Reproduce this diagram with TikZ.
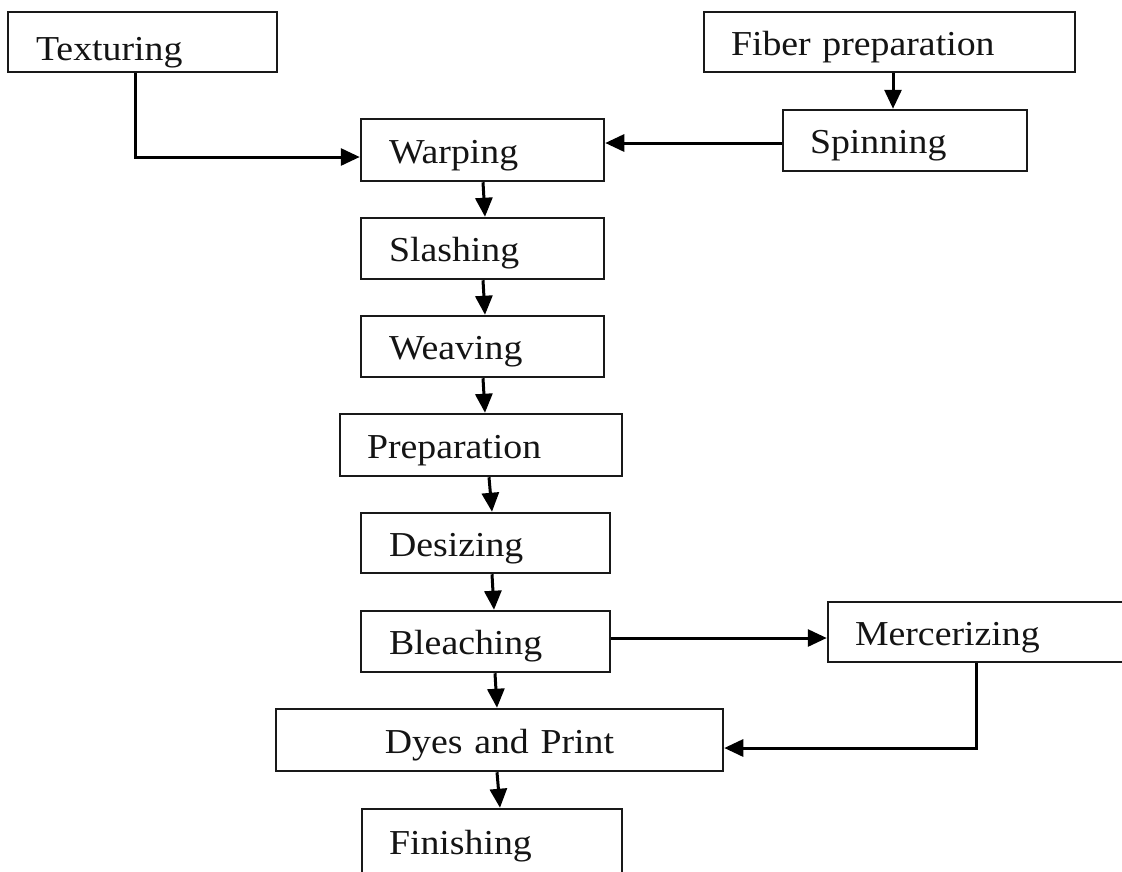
\documentclass[tikz,border=0pt]{standalone}
\usepackage{fontspec}
\setmainfont{Liberation Serif}[FakeStretch=1.08]
\usetikzlibrary{arrows.meta}
\tikzset{
  boxstyle/.style={draw=black!90, line width=2.5pt, rectangle, inner ysep=0pt,
    text height=30pt, text depth=4pt, font=\fontsize{35}{40}\selectfont, text=black!92},
  arr/.style={line width=3pt, -{Triangle[length=19pt,width=17pt]}}
}
\newcommand\procbox[8]{%
  \pgfmathsetmacro\pbw{#4-#2}%
  \pgfmathsetmacro\pbh{#5-#3}%
  \pgfmathsetmacro\pbs{#6-#2}%
  \pgfmathsetmacro\pbt{\pbw-2*\pbs}%
  \node[boxstyle, minimum width=\pbw pt, minimum height=\pbh pt,
        inner xsep=\pbs pt, text width=\pbt pt, #8] (#1) at ({(#2+#4)/2},{(#3+#5)/2}) {#7};%
}
\begin{document}
\begin{tikzpicture}[x=1pt,y=-1pt]
\fill[white] (0,0) rectangle (1122,871);
\useasboundingbox (0,0) rectangle (1122,871);

\procbox{tex}{8}{12}{277}{72}{36}{Texturing}{text height=40pt}
\procbox{fiber}{704}{12}{1075}{72}{731}{Fiber preparation}{}
\procbox{spin}{783}{110}{1027}{171}{810}{Spinning}{}
\procbox{warp}{361}{119}{604}{181}{389}{Warping}{}
\procbox{slash}{361}{218}{604}{279}{389}{Slashing}{}
\procbox{weave}{361}{316}{604}{377}{389}{Weaving}{}
\procbox{prep}{340}{414}{622}{476}{367}{Preparation}{}
\procbox{des}{361}{513}{610}{573}{389}{Desizing}{}
\procbox{bleach}{361}{611}{610}{672}{389}{Bleaching}{}
\procbox{merc}{828}{602}{1124}{662}{855}{Mercerizing}{}
\procbox{dyes}{276}{709}{723}{771}{290}{Dyes and Print}{align=center}
\procbox{fin}{362}{809}{622}{874}{389}{Finishing}{}

% top connectors
\draw[arr] ([xshift=-7.5pt]tex.south) |- ([yshift=-7pt]warp.west);
\draw[arr] ([xshift=3.5pt]fiber.south) -- ([xshift=-12pt]spin.north);
\coordinate (sw) at ([yshift=-2.5pt]spin.west);
\draw[arr] (sw) -- (sw -| warp.east);

% main chain
\draw[arr] ([xshift=0.5pt]warp.south) -- ([xshift=2.5pt]slash.north);
\draw[arr] ([xshift=0.5pt]slash.south) -- ([xshift=2.5pt]weave.north);
\draw[arr] ([xshift=0.5pt]weave.south) -- ([xshift=4pt]prep.north);
\draw[arr] ([xshift=8pt]prep.south) -- ([xshift=6.5pt]des.north);
\draw[arr] ([xshift=6.5pt]des.south) -- ([xshift=8.5pt]bleach.north);
\draw[arr] ([xshift=9.5pt]bleach.south) -- ([xshift=-2.5pt]dyes.north);
\draw[arr] ([xshift=-2.5pt]dyes.south) -- ([xshift=8pt]fin.north);

% mercerizing branch
\coordinate (bm) at ([yshift=3.5pt]bleach.east);
\draw[arr] (bm) -- (bm -| merc.west);
\draw[arr] (merc.south) |- ([yshift=-8pt]dyes.east);
\end{tikzpicture}
\end{document}
